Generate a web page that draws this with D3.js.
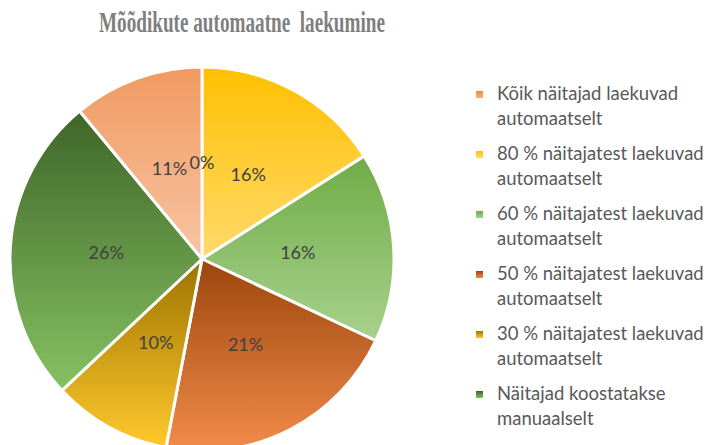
<!DOCTYPE html>
<html>
<head>
<meta charset="utf-8">
<script src="https://cdn.jsdelivr.net/npm/d3@7"></script>
<style>
  body { margin: 0; background: #fff; }
  svg { display: block; }
</style>
</head>
<body>
<svg></svg>
<script>
// categories in Excel order (the 7th entry is cut off below the picture)
const categories = [
    'Kõik näitajad laekuvad automaatselt',
    '80 % näitajatest laekuvad automaatselt',
    '60 % näitajatest laekuvad automaatselt',
    '50 % näitajatest laekuvad automaatselt',
    '30 % näitajatest laekuvad automaatselt',
    'Näitajad koostatakse manuaalselt',
    'Muu'
];
const values = [0, 16, 16, 21, 10, 26, 11];
const legendCount = 6;

// top / bottom colours of each slice's vertical gradient
const colorsTop = ['#ef8a48', '#ffc000', '#6fac46', '#9c460d', '#9c7300', '#3f6629', '#f09a5f'];
const colorsBottom = ['#f4b183', '#ffda6b', '#a9d18e', '#f28b4a', '#ffc92c', '#86c162', '#f8c4a4'];

let width = 708;
let height = 445;
let cx = 202;
let cy = 259;
let radius = 192;

let svg = d3.select('svg')
    .attr('width', width)
    .attr('height', height);

let defs = svg.append('defs');
categories.forEach((c, i) => {
    let g = defs.append('linearGradient')
        .attr('id', 'grad' + i)
        .attr('x1', 0).attr('y1', 0)
        .attr('x2', 0).attr('y2', 1);
    g.append('stop').attr('offset', '0%').attr('stop-color', colorsTop[i]);
    g.append('stop').attr('offset', '100%').attr('stop-color', colorsBottom[i]);
});

// title
svg.append('text')
    .attr('x', 242)
    .attr('y', 32)
    .attr('text-anchor', 'middle')
    .attr('font-family', 'Liberation Serif, serif')
    .attr('font-weight', 'bold')
    .attr('font-size', 29)
    .attr('fill', '#7f7f7f')
    .attr('textLength', 286)
    .attr('lengthAdjust', 'spacingAndGlyphs')
    .style('white-space', 'pre')
    .text('Mõõdikute automaatne  laekumine');

let pie = d3.pie().sort(null).value(d => d);
let arcs = pie(values);
let total = d3.sum(values);

let arc = d3.arc().innerRadius(0).outerRadius(radius);
let labelArc = d3.arc().innerRadius(radius / 2).outerRadius(radius / 2);

let chart = svg.append('g')
    .attr('transform', 'translate(' + cx + ',' + cy + ')');

chart.selectAll('path')
    .data(arcs)
    .enter()
    .append('path')
        .attr('d', arc)
        .attr('fill', (d, i) => 'url(#grad' + i + ')')
        .attr('stroke', '#fff')
        .attr('stroke-width', 3)
        .attr('stroke-linejoin', 'round');

let pct = d3.format('.0%');
chart.selectAll('text.lbl')
    .data(arcs)
    .enter()
    .append('text')
        .attr('class', 'lbl')
        .attr('transform', d => 'translate(' + labelArc.centroid(d) + ')')
        .attr('text-anchor', 'middle')
        .attr('dy', '0.35em')
        .attr('font-family', 'Lato, sans-serif')
        .attr('font-size', 18)
        .attr('fill', '#404040')
        .text(d => pct(d.data / total));

// legend
let legend = svg.append('g');
let items = legend.selectAll('g')
    .data(categories.slice(0, legendCount))
    .enter()
    .append('g')
        .attr('transform', (d, i) => 'translate(476,' + (100 + i * 60) + ')');

items.append('rect')
    .attr('x', 0)
    .attr('y', -9)
    .attr('width', 7)
    .attr('height', 7)
    .attr('fill', (d, i) => 'url(#grad' + i + ')');

items.append('text')
    .attr('x', 21)
    .attr('font-family', 'Lato, sans-serif')
    .attr('font-size', 18.5)
    .attr('fill', '#595959')
    .each(function (d) {
        let k = d.lastIndexOf(' ');
        let lines = [d.slice(0, k), d.slice(k + 1)];
        d3.select(this).selectAll('tspan')
            .data(lines)
            .enter()
            .append('tspan')
                .attr('x', 21)
                .attr('y', (l, j) => j * 25)
                .text(l => l);
    });
</script>
</body>
</html>
